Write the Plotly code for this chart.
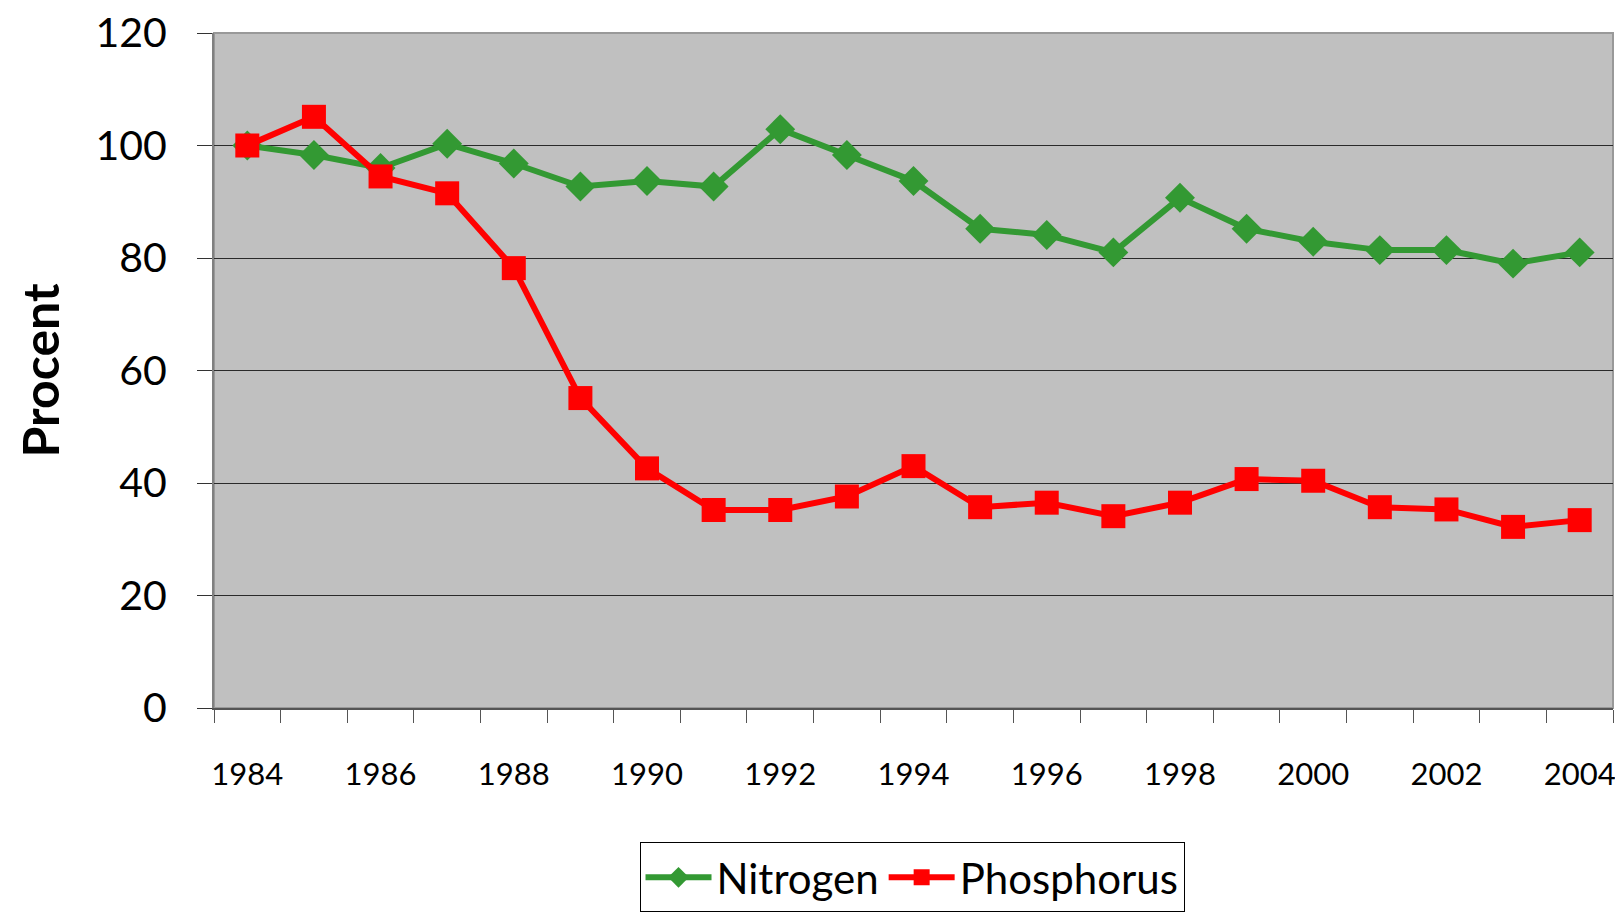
import plotly.graph_objects as go

years = list(range(1984, 2005))
nitrogen = [100.0, 98.3, 96.0, 100.3, 96.8, 92.7, 93.7, 92.7, 102.9, 98.3, 93.7,
            85.2, 84.1, 81.0, 90.7, 85.2, 82.9, 81.4, 81.4, 79.0, 81.0]
phosphorus = [100.0, 105.1, 94.5, 91.5, 78.2, 55.1, 42.6, 35.2, 35.2, 37.6, 43.0,
              35.7, 36.5, 34.1, 36.5, 40.7, 40.4, 35.7, 35.3, 32.2, 33.4]
ytick_vals = [0, 20, 40, 60, 80, 100, 120]
xtick_vals = list(range(1984, 2005, 2))

FONT = "Comic Sans MS, Lato, sans-serif"

fig = go.Figure()
fig.add_trace(go.Scatter(
    x=years, y=nitrogen, name="Nitrogen", mode="lines+markers",
    line=dict(color="#339933", width=6),
    marker=dict(symbol="diamond", size=23, color="#339933"),
))
fig.add_trace(go.Scatter(
    x=years, y=phosphorus, name="Phosphorus", mode="lines+markers",
    line=dict(color="#FF0000", width=6),
    marker=dict(symbol="square", size=24, color="#FF0000"),
))

fig.update_layout(
    width=1623, height=913,
    margin=dict(l=206, r=18, t=25, b=213, autoexpand=False),
    paper_bgcolor="white",
    plot_bgcolor="#C0C0C0",
    font=dict(family=FONT, color="black"),
    showlegend=True,
    legend=dict(
        orientation="h", xref="container", yref="container",
        x=0.557, y=0.086, xanchor="center", yanchor="top",
        bordercolor="black", borderwidth=1, bgcolor="white",
        font=dict(size=42, family=FONT), itemwidth=66,
        tracegroupgap=0,
    ),
    xaxis=dict(
        automargin=False,
        range=[1983.5, 2004.5],
        tickmode="array", tickvals=xtick_vals,
        ticks="", ticklabelstandoff=38, ticklabeloverflow="allow",
        tickfont=dict(size=31, family=FONT),
        showgrid=False, zeroline=False,
        showline=True, linecolor="#555555", linewidth=2,
        mirror=False,
        minor=dict(ticks="outside", tick0=1983.5, dtick=1, ticklen=13,
                   tickcolor="#555555", tickwidth=1, showgrid=False),
    ),
    yaxis=dict(
        automargin=False,
        range=[0, 120], tickmode="array", tickvals=ytick_vals,
        ticks="outside", ticklen=15, tickcolor="#333333",
        ticklabelstandoff=22, ticklabeloverflow="allow",
        tickfont=dict(size=41, family=FONT),
        showgrid=True, gridcolor="#2a2a2a", gridwidth=1,
        zeroline=False,
        showline=True, linecolor="#808080", linewidth=2,
    ),
)

fig.add_annotation(
    text="<b>Procent</b>", textangle=-90, xref="paper", yref="paper",
    x=-0.1244, y=0.5, xanchor="center", yanchor="middle", showarrow=False,
    font=dict(size=50, family=FONT, color="black"),
)

# plot area border on top and right
fig.add_shape(type="rect", xref="paper", yref="paper", x0=0, y0=0, x1=1, y1=1,
              line=dict(color="#999999", width=2), fillcolor="rgba(0,0,0,0)", layer="below")

fig.write_html("out.html")
